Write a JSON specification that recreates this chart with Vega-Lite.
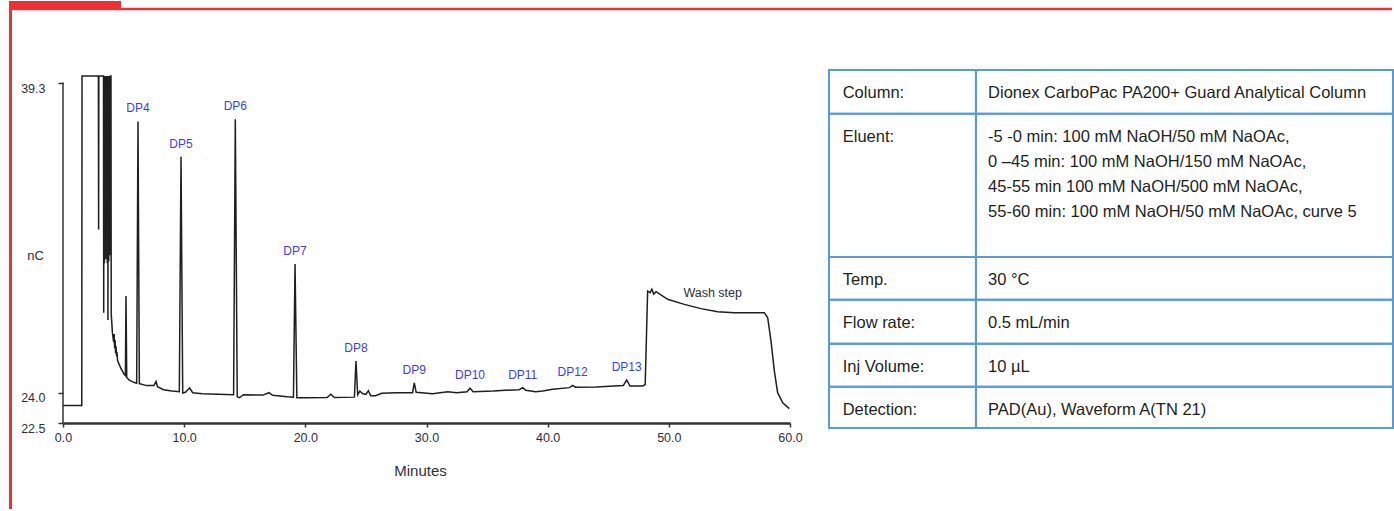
{
  "$schema": "https://vega.github.io/schema/vega-lite/v6.json",
  "background": "white",
  "padding": {"left": 8, "top": 0, "right": 0, "bottom": 0},
  "bounds": "flush",
  "spacing": 39,
  "datasets": {
    "trace": [
      {"t": 0, "v": 23.37}, {"t": 1.55, "v": 23.37}, {"t": 1.57, "v": 39.67},
      {"t": 2.92, "v": 39.67}, {"t": 2.94, "v": 32.08}, {"t": 2.96, "v": 39.67},
      {"t": 3.34, "v": 39.67}, {"t": 3.36, "v": 27.96}, {"t": 3.38, "v": 39.67},
      {"t": 3.42, "v": 30.4}, {"t": 3.45, "v": 39.67}, {"t": 3.48, "v": 31.5},
      {"t": 3.51, "v": 39.67}, {"t": 3.54, "v": 30.6}, {"t": 3.57, "v": 39.67},
      {"t": 3.6, "v": 31.0}, {"t": 3.63, "v": 39.67}, {"t": 3.66, "v": 30.4},
      {"t": 3.69, "v": 39.67}, {"t": 3.71, "v": 27.6}, {"t": 3.73, "v": 39.67},
      {"t": 3.78, "v": 30.5}, {"t": 3.81, "v": 39.67}, {"t": 3.84, "v": 31.2},
      {"t": 3.87, "v": 39.67}, {"t": 3.9, "v": 30.8}, {"t": 3.93, "v": 39.67},
      {"t": 3.96, "v": 39.67}, {"t": 3.98, "v": 27.9}, {"t": 4.08, "v": 26.97},
      {"t": 4.18, "v": 26.5}, {"t": 4.22, "v": 26.9}, {"t": 4.26, "v": 26.2},
      {"t": 4.3, "v": 26.6}, {"t": 4.34, "v": 25.95}, {"t": 4.38, "v": 26.3},
      {"t": 4.42, "v": 25.8}, {"t": 4.46, "v": 26.0}, {"t": 4.5, "v": 25.6},
      {"t": 4.6, "v": 25.45}, {"t": 4.78, "v": 25.2}, {"t": 5.06, "v": 24.9},
      {"t": 5.15, "v": 24.85}, {"t": 5.2, "v": 28.78}, {"t": 5.26, "v": 24.75},
      {"t": 5.47, "v": 24.62}, {"t": 5.89, "v": 24.5}, {"t": 6.08, "v": 24.47},
      {"t": 6.19, "v": 37.42}, {"t": 6.3, "v": 24.45}, {"t": 6.6, "v": 24.4},
      {"t": 6.9, "v": 24.35}, {"t": 7.5, "v": 24.35}, {"t": 7.68, "v": 24.55},
      {"t": 7.8, "v": 24.3}, {"t": 8.3, "v": 24.15}, {"t": 9.0, "v": 24.08},
      {"t": 9.6, "v": 24.05}, {"t": 9.74, "v": 35.67}, {"t": 9.88, "v": 23.98},
      {"t": 10.1, "v": 24.02}, {"t": 10.45, "v": 24.23}, {"t": 10.7, "v": 24.0},
      {"t": 11.5, "v": 23.95}, {"t": 12.8, "v": 23.92}, {"t": 14.08, "v": 23.9},
      {"t": 14.22, "v": 37.53}, {"t": 14.38, "v": 23.8}, {"t": 14.55, "v": 23.75},
      {"t": 14.9, "v": 23.9}, {"t": 16.5, "v": 23.88}, {"t": 17.0, "v": 24.0},
      {"t": 17.3, "v": 23.87}, {"t": 18.5, "v": 23.8}, {"t": 19.02, "v": 23.78},
      {"t": 19.15, "v": 30.37}, {"t": 19.3, "v": 23.75}, {"t": 20.0, "v": 23.75},
      {"t": 21.8, "v": 23.76}, {"t": 22.1, "v": 23.92}, {"t": 22.4, "v": 23.76},
      {"t": 24.05, "v": 23.78}, {"t": 24.18, "v": 25.57}, {"t": 24.32, "v": 23.9},
      {"t": 24.5, "v": 24.08}, {"t": 24.75, "v": 23.95}, {"t": 25.0, "v": 23.92},
      {"t": 25.2, "v": 24.1}, {"t": 25.4, "v": 23.85}, {"t": 25.8, "v": 23.85},
      {"t": 26.3, "v": 23.97}, {"t": 27.5, "v": 24.0}, {"t": 28.85, "v": 24.0},
      {"t": 28.99, "v": 24.49}, {"t": 29.15, "v": 24.02}, {"t": 30.5, "v": 23.95},
      {"t": 31.75, "v": 24.05}, {"t": 32.5, "v": 24.0}, {"t": 33.35, "v": 24.05},
      {"t": 33.59, "v": 24.22}, {"t": 33.85, "v": 24.05}, {"t": 35.5, "v": 24.08},
      {"t": 36.5, "v": 24.12}, {"t": 37.65, "v": 24.15}, {"t": 37.94, "v": 24.25},
      {"t": 38.2, "v": 24.12}, {"t": 39.0, "v": 24.05}, {"t": 39.6, "v": 24.08},
      {"t": 40.4, "v": 24.17}, {"t": 41.8, "v": 24.25}, {"t": 42.06, "v": 24.36},
      {"t": 42.3, "v": 24.27}, {"t": 44.0, "v": 24.28}, {"t": 45.5, "v": 24.33},
      {"t": 46.25, "v": 24.36}, {"t": 46.52, "v": 24.63}, {"t": 46.8, "v": 24.33},
      {"t": 47.84, "v": 24.33}, {"t": 48.05, "v": 24.4}, {"t": 48.25, "v": 29.03},
      {"t": 48.45, "v": 28.95}, {"t": 48.6, "v": 29.12}, {"t": 48.75, "v": 28.88},
      {"t": 48.95, "v": 29.0}, {"t": 49.9, "v": 28.62}, {"t": 51.28, "v": 28.37},
      {"t": 52.65, "v": 28.16}, {"t": 54.03, "v": 28.01}, {"t": 55.4, "v": 27.96},
      {"t": 57.88, "v": 27.96}, {"t": 58.16, "v": 27.71}, {"t": 58.43, "v": 26.56},
      {"t": 58.71, "v": 25.07}, {"t": 58.98, "v": 24.0}, {"t": 59.4, "v": 23.5},
      {"t": 59.94, "v": 23.21}
    ],
    "peaks": [
      {"label": "DP4", "t": 6.19, "v": 37.42},
      {"label": "DP5", "t": 9.74, "v": 35.67},
      {"label": "DP6", "t": 14.22, "v": 37.53},
      {"label": "DP7", "t": 19.15, "v": 30.37},
      {"label": "DP8", "t": 24.18, "v": 25.57},
      {"label": "DP9", "t": 28.99, "v": 24.49},
      {"label": "DP10", "t": 33.59, "v": 24.22},
      {"label": "DP11", "t": 37.94, "v": 24.25},
      {"label": "DP12", "t": 42.06, "v": 24.36},
      {"label": "DP13", "t": 46.52, "v": 24.63}
    ],
    "conditions": [
      {"param": "Column:", "setting": ["Dionex CarboPac PA200+ Guard Analytical Column"], "top": 0, "bottom": 0.122},
      {"param": "Eluent:", "setting": ["-5 -0 min: 100 mM NaOH/50 mM NaOAc,", "0 –45 min: 100 mM NaOH/150 mM NaOAc,", "45-55 min 100 mM NaOH/500 mM NaOAc,", "55-60 min: 100 mM NaOH/50 mM NaOAc, curve 5"], "top": 0.122, "bottom": 0.522},
      {"param": "Temp.", "setting": ["30 °C"], "top": 0.522, "bottom": 0.642},
      {"param": "Flow rate:", "setting": ["0.5 mL/min"], "top": 0.642, "bottom": 0.765},
      {"param": "Inj Volume:", "setting": ["10 µL"], "top": 0.765, "bottom": 0.885},
      {"param": "Detection:", "setting": ["PAD(Au), Waveform A(TN 21)"], "top": 0.885, "bottom": 1}
    ]
  },
  "hconcat": [
    {
      "width": 727,
      "height": 353,
      "layer": [
        {
          "data": {"name": "trace"},
          "mark": {"type": "line", "color": "#1f1f1f", "strokeWidth": 1.5},
          "encoding": {
            "x": {
              "field": "t", "type": "quantitative",
              "scale": {"domain": [0, 60], "nice": false, "zero": false},
              "axis": {
                "values": [0, 10, 20, 30, 40, 50, 60], "format": ".1f",
                "domainColor": "#333333", "domainWidth": 2.5,
                "tickColor": "#333333", "tickSize": 4, "tickWidth": 1.5,
                "labelFontSize": 12.5, "labelColor": "#2f2f3a", "labelPadding": 4,
                "labelFlush": false, "labelOverlap": false,
                "title": "Minutes", "titleFontSize": 15, "titleFontWeight": "normal",
                "titleColor": "#2f2f3a", "titleX": 357, "titleY": 47,
                "titleBaseline": "middle", "titleAlign": "center"
              }
            },
            "y": {
              "field": "v", "type": "quantitative",
              "scale": {"domain": [22.5, 39.968], "nice": false, "zero": false},
              "axis": {
                "values": [22.5, 24, 39.3], "format": ".1f", "domain": false,
                "tickColor": "#333333", "tickSize": 5, "tickWidth": 1.5,
                "labelFontSize": 12.5, "labelColor": "#2f2f3a", "labelPadding": 13,
                "labelOffset": 5, "labelFlush": false, "labelOverlap": false,
                "title": "nC", "titleAngle": 0, "titleAlign": "center",
                "titleBaseline": "middle", "titleX": -28, "titleY": 185,
                "titleFontSize": 13, "titleFontWeight": "normal", "titleColor": "#2f2f3a"
              }
            }
          }
        },
        {
          "data": {"values": [{}]},
          "mark": {"type": "rule", "color": "#333333", "strokeWidth": 1.5},
          "encoding": {
            "x": {"datum": 0, "type": "quantitative"},
            "y": {"datum": 22.5, "type": "quantitative"},
            "y2": {"datum": 39.35}
          }
        },
        {
          "data": {"name": "peaks"},
          "mark": {"type": "text", "color": "#3d3dee", "fontSize": 12, "baseline": "middle", "dy": -13},
          "encoding": {
            "x": {"field": "t", "type": "quantitative"},
            "y": {"field": "v", "type": "quantitative"},
            "text": {"field": "label"}
          }
        },
        {
          "data": {"values": [{}]},
          "mark": {"type": "text", "color": "#2f2f3a", "fontSize": 12.5, "baseline": "middle"},
          "encoding": {
            "x": {"datum": 53.62, "type": "quantitative"},
            "y": {"datum": 28.91, "type": "quantitative"},
            "text": {"value": "Wash step"}
          }
        },
        {
          "data": {"values": [{}]},
          "mark": {"type": "rect", "color": "#ed3237"},
          "encoding": {
            "x": {"datum": -4.4567, "type": "quantitative"},
            "x2": {"datum": 4.7868},
            "y": {"datum": 43.3825, "type": "quantitative"},
            "y2": {"datum": 42.9866}
          }
        },
        {
          "data": {"values": [{}]},
          "mark": {"type": "rule", "color": "#ed3237", "strokeWidth": 2.5},
          "encoding": {
            "x": {"datum": -4.3329, "type": "quantitative"},
            "x2": {"datum": 109.68},
            "y": {"datum": 42.9866, "type": "quantitative"}
          }
        },
        {
          "data": {"values": [{}]},
          "mark": {"type": "rule", "color": "#ed3237", "strokeWidth": 3},
          "encoding": {
            "x": {"datum": -4.3329, "type": "quantitative"},
            "y": {"datum": 42.9866, "type": "quantitative"},
            "y2": {"datum": 18.244}
          }
        }
      ]
    },
    {
      "width": 564,
      "height": 358,
      "data": {"name": "conditions"},
      "layer": [
        {
          "mark": {"type": "rect", "filled": false, "color": "#5b9bd5", "strokeWidth": 2},
          "encoding": {
            "x": {"datum": 0, "type": "quantitative", "scale": {"domain": [0, 1], "nice": false}, "axis": null},
            "x2": {"datum": 1},
            "y": {"field": "top", "type": "quantitative", "scale": {"domain": [0, 1], "nice": false, "reverse": true}, "axis": null},
            "y2": {"field": "bottom"}
          }
        },
        {
          "mark": {"type": "rule", "color": "#5b9bd5", "strokeWidth": 2},
          "encoding": {
            "x": {"datum": 0.2606, "type": "quantitative"},
            "y": {"datum": 0, "type": "quantitative"},
            "y2": {"datum": 1}
          }
        },
        {
          "mark": {"type": "text", "align": "left", "baseline": "top", "dy": 15, "fontSize": 16.5, "color": "#231f20"},
          "encoding": {
            "x": {"datum": 0.0243, "type": "quantitative"},
            "y": {"field": "top", "type": "quantitative"},
            "text": {"field": "param"}
          }
        },
        {
          "mark": {"type": "text", "align": "left", "baseline": "top", "dy": 15, "fontSize": 16.5, "lineHeight": 25, "color": "#231f20"},
          "encoding": {
            "x": {"datum": 0.282, "type": "quantitative"},
            "y": {"field": "top", "type": "quantitative"},
            "text": {"field": "setting"}
          }
        }
      ]
    }
  ],
  "config": {
    "view": {"stroke": null},
    "font": "Liberation Sans",
    "axis": {"grid": false, "labelFont": "Liberation Sans", "titleFont": "Liberation Sans"},
    "text": {"font": "Liberation Sans"}
  }
}
